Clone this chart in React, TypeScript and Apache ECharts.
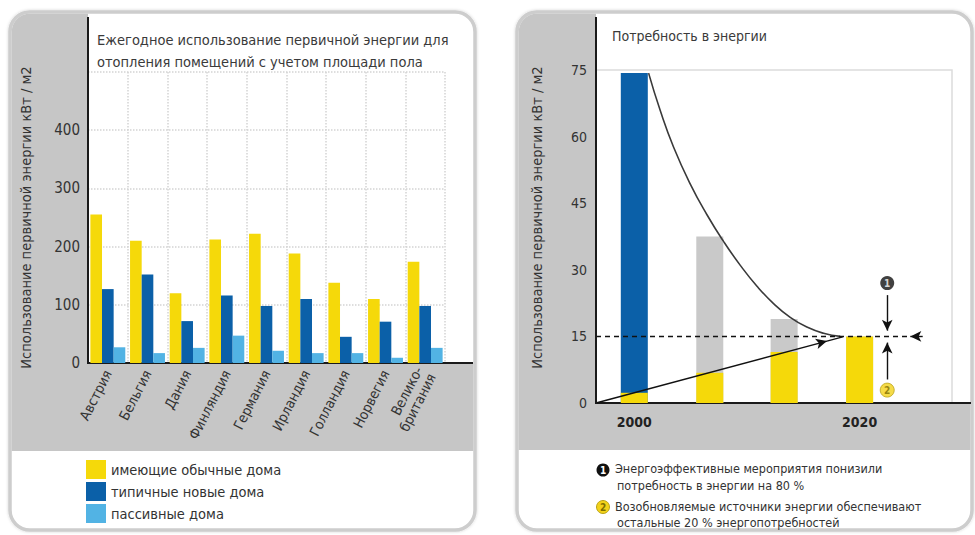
import React, { useEffect, useRef } from "react";
import * as echarts from "echarts";

const FONT =
  '"Liberation Sans Narrow", "DejaVu Sans Condensed", "Roboto Condensed", "Noto Sans", sans-serif';

// ---- Left chart: annual primary energy use for space heating (kWh / m2) ----
const countries = [
  "Австрия",
  "Бельгия",
  "Дания",
  "Финляндия",
  "Германия",
  "Ирландия",
  "Голландия",
  "Норвегия",
  "Велико-\nбритания",
];
const conventionalHomes = [255, 210, 120, 212, 222, 188, 138, 110, 174];
const typicalNewHomes = [127, 152, 72, 116, 98, 110, 45, 71, 98];
const passiveHomes = [27, 17, 26, 47, 21, 17, 17, 9, 26];
const heatingTicks = [0, 100, 200, 300, 400];

// ---- Right chart: energy demand ----
const demandYears = [2000, 2006.7, 2013.3, 2020];
const totalDemand = [74.3, 37.5, 18.9, 15];
const renewableShare = [2.3, 6.8, 11.5, 15];
const demandCurve = [
  [2001.27, 74.3],
  [2002.31, 65.8],
  [2003.49, 57.6],
  [2004.97, 49.3],
  [2006.45, 42.4],
  [2007.92, 36.4],
  [2009.41, 31.0],
  [2010.89, 26.3],
  [2012.36, 22.4],
  [2013.84, 19.3],
  [2015.32, 17.1],
  [2016.8, 15.7],
  [2018.28, 15.0],
];
const renewablePath = [
  [1996.6, 0],
  [2017.1, 13.95],
  [2018.5, 14.9],
];
const targetLevel = 15;
const yearLabels = [2000, 2020];
const markerYear = 2022.45;
const efficiencyMarker = [markerYear, 27.0];
const renewableMarker = [markerYear, 2.9];
const demandRange = { min: 1996.6, max: 2028.2 };

const YELLOW = "#f5d90a";
const DARK_BLUE = "#0b60a8";
const LIGHT_BLUE = "#52b3e4";
const BAR_GRAY = "#c9c9c9";
const PANEL_GRAY = "#c6c6c6";
const PANEL_BORDER = "#cdcdcd";
const INK = "#333333";

export default function App() {
  const ref = useRef<HTMLDivElement>(null);

  useEffect(() => {
    if (!ref.current) return;
    const chart = echarts.init(ref.current, undefined, { renderer: "svg" });

    const arrowLine = { type: "solid", color: "#111", width: 1.4 };

    const option: any = {
      animation: false,
      textStyle: { fontFamily: FONT, color: INK },
      title: [
        {
          text:
            "Ежегодное использование первичной энергии для\nотопления помещений с учетом площади пола",
          left: 97,
          top: 29,
          padding: 0,
          textStyle: {
            fontFamily: FONT,
            fontSize: 14.5,
            fontWeight: "normal",
            color: "#3a3a3a",
            lineHeight: 22,
          },
        },
        {
          text: "Потребность в энергии",
          left: 612,
          top: 29,
          padding: 0,
          textStyle: {
            fontFamily: FONT,
            fontSize: 14,
            fontWeight: "normal",
            color: "#3a3a3a",
          },
        },
      ],
      legend: {
        data: ["имеющие обычные дома", "типичные новые дома", "пассивные дома"],
        orient: "vertical",
        left: 86,
        top: 460,
        padding: 0,
        icon: "rect",
        itemWidth: 20,
        itemHeight: 19,
        itemGap: 3,
        textStyle: { fontFamily: FONT, fontSize: 14.5, color: INK },
        selectedMode: false,
      },
      grid: [
        { left: 88, top: 72, width: 357, height: 291, containLabel: false },
        {
          left: 596,
          top: 70,
          width: 356,
          height: 333,
          containLabel: false,
          show: true,
          borderColor: "#dcdcdc",
          borderWidth: 1.5,
          backgroundColor: "transparent",
        },
      ],
      xAxis: [
        {
          gridIndex: 0,
          type: "category",
          data: countries,
          boundaryGap: true,
          axisLine: { show: true, lineStyle: { color: "#1a1a1a", width: 2 } },
          axisTick: { show: false },
          splitLine: {
            show: true,
            lineStyle: { color: "#d4d4d4", type: "dotted", width: 1.5 },
          },
          axisLabel: {
            rotate: 63,
            margin: 8,
            fontSize: 14,
            color: INK,
            fontFamily: FONT,
            interval: 0,
            lineHeight: 15,
          },
        },
        {
          gridIndex: 1,
          type: "value",
          min: demandRange.min,
          max: demandRange.max,
          axisLine: { show: true, lineStyle: { color: "#1a1a1a", width: 2 } },
          axisTick: { show: false },
          splitLine: { show: false },
          axisLabel: {
            customValues: yearLabels,
            formatter: (v: number) => String(Math.round(v)),
            fontSize: 14,
            fontWeight: "bold",
            color: "#222",
            fontFamily: FONT,
            margin: 12,
          },
        },
      ],
      yAxis: [
        {
          gridIndex: 0,
          type: "value",
          min: 0,
          max: 500,
          interval: 100,
          axisLine: { show: false },
          axisTick: { show: false },
          splitLine: {
            show: true,
            lineStyle: { color: "#d4d4d4", type: "dotted", width: 1.5 },
          },
          axisLabel: {
            fontSize: 15,
            color: INK,
            fontFamily: FONT,
            margin: 8,
            formatter: (v: number) => (heatingTicks.includes(v) ? String(v) : ""),
          },
          name: "Использование первичной энергии кВт / м2",
          nameLocation: "middle",
          nameGap: 55,
          nameRotate: 90,
          nameTextStyle: { fontFamily: FONT, fontSize: 14.5, color: INK },
        },
        {
          gridIndex: 1,
          type: "value",
          min: 0,
          max: 75,
          interval: 15,
          axisLine: { show: false },
          axisTick: { show: false },
          splitLine: { show: false },
          axisLabel: { fontSize: 14, color: INK, fontFamily: FONT, margin: 9 },
          name: "Использование первичной энергии кВт / м2",
          nameLocation: "middle",
          nameGap: 52,
          nameRotate: 90,
          nameTextStyle: {
            fontFamily: FONT,
            fontSize: 14.5,
            color: INK,
            padding: [0, 0, 0, 38],
          },
        },
      ],
      series: [
        {
          name: "имеющие обычные дома",
          type: "bar",
          xAxisIndex: 0,
          yAxisIndex: 0,
          data: conventionalHomes,
          itemStyle: { color: YELLOW },
          barGap: "0%",
          barCategoryGap: "12%",
        },
        {
          name: "типичные новые дома",
          type: "bar",
          xAxisIndex: 0,
          yAxisIndex: 0,
          data: typicalNewHomes,
          itemStyle: { color: DARK_BLUE },
          barGap: "0%",
          barCategoryGap: "12%",
        },
        {
          name: "пассивные дома",
          type: "bar",
          xAxisIndex: 0,
          yAxisIndex: 0,
          data: passiveHomes,
          itemStyle: { color: LIGHT_BLUE },
          barGap: "0%",
          barCategoryGap: "12%",
        },
        // full demand per year (blue for 2000, grey afterwards)
        {
          name: "total",
          type: "bar",
          xAxisIndex: 1,
          yAxisIndex: 1,
          barWidth: 27,
          barGap: "-100%",
          data: demandYears.map((y, i) => ({
            value: [y, totalDemand[i]],
            itemStyle: { color: i === 0 ? DARK_BLUE : BAR_GRAY },
          })),
        },
        // renewable part drawn over the foot of each bar
        {
          name: "renewable",
          type: "bar",
          xAxisIndex: 1,
          yAxisIndex: 1,
          barWidth: 27,
          barGap: "-100%",
          data: demandYears.map((y, i) => [y, renewableShare[i]]),
          itemStyle: { color: YELLOW },
        },
        {
          name: "curve",
          type: "line",
          xAxisIndex: 1,
          yAxisIndex: 1,
          data: demandCurve,
          smooth: 0.5,
          symbol: "none",
          lineStyle: { color: "#3a3a3a", width: 1.6 },
          z: 4,
        },
        {
          name: "guides",
          type: "line",
          xAxisIndex: 1,
          yAxisIndex: 1,
          data: [],
          z: 5,
          markLine: {
            silent: true,
            symbol: ["none", "arrow"],
            symbolSize: [8, 11],
            label: { show: false },
            data: [
              [
                {
                  coord: [demandRange.min, targetLevel],
                  lineStyle: { type: [5, 4], color: "#111", width: 1.4 },
                  symbol: "none",
                },
                { coord: [2024.5, targetLevel], symbol: "none" },
              ],
              [
                { coord: [2025.6, targetLevel], lineStyle: arrowLine },
                { coord: [2024.5, targetLevel] },
              ],
              [
                { coord: renewablePath[0], lineStyle: arrowLine },
                { coord: renewablePath[1] },
              ],
              [
                { coord: renewablePath[1], lineStyle: arrowLine, symbol: "none" },
                { coord: renewablePath[2], symbol: "none" },
              ],
              [
                { coord: [markerYear, 24.3], lineStyle: arrowLine },
                { coord: [markerYear, 16.3] },
              ],
              [
                { coord: [markerYear, 5.3], lineStyle: arrowLine },
                { coord: [markerYear, 13.6] },
              ],
            ],
          },
        },
        {
          name: "markers",
          type: "scatter",
          xAxisIndex: 1,
          yAxisIndex: 1,
          symbolSize: 14,
          z: 6,
          data: [
            {
              value: efficiencyMarker,
              name: "1",
              itemStyle: { color: "#111" },
              label: { color: "#fff" },
            },
            {
              value: renewableMarker,
              name: "2",
              itemStyle: { color: "#f2d21a", borderColor: "#b9a21a", borderWidth: 1 },
              label: { color: "#7d6d00" },
            },
          ],
          label: {
            show: true,
            position: "inside",
            formatter: "{b}",
            fontSize: 10,
            fontWeight: "bold",
            fontFamily: FONT,
          },
        },
      ],
      graphic: {
        elements: [
          // left panel frame and grey bands
          {
            type: "rect",
            z: -10,
            shape: { x: 10, y: 12, width: 465, height: 518, r: 20 },
            style: {
              fill: "#ffffff",
              stroke: PANEL_BORDER,
              lineWidth: 3.5,
              shadowBlur: 3,
              shadowColor: "rgba(0,0,0,0.18)",
            },
          },
          {
            type: "rect",
            z: -9,
            shape: { x: 11.75, y: 13.75, width: 76.25, height: 437.25, r: [18, 0, 0, 0] },
            style: { fill: PANEL_GRAY },
          },
          {
            type: "rect",
            z: -9,
            shape: { x: 88, y: 363, width: 385.25, height: 88 },
            style: { fill: PANEL_GRAY },
          },
          // right panel frame and grey bands
          {
            type: "rect",
            z: -10,
            shape: { x: 517, y: 12, width: 455, height: 518, r: 20 },
            style: {
              fill: "#ffffff",
              stroke: PANEL_BORDER,
              lineWidth: 3.5,
              shadowBlur: 3,
              shadowColor: "rgba(0,0,0,0.18)",
            },
          },
          {
            type: "rect",
            z: -9,
            shape: { x: 518.75, y: 13.75, width: 77.25, height: 436.25, r: [18, 0, 0, 0] },
            style: { fill: PANEL_GRAY },
          },
          {
            type: "rect",
            z: -9,
            shape: { x: 596, y: 403, width: 374.25, height: 47 },
            style: { fill: PANEL_GRAY },
          },
          // axis rules running to the panel edges
          {
            type: "line",
            z: 50,
            shape: { x1: 88, y1: 17, x2: 88, y2: 364 },
            style: { stroke: "#1a1a1a", lineWidth: 2 },
          },
          {
            type: "line",
            z: 50,
            shape: { x1: 444, y1: 363, x2: 473, y2: 363 },
            style: { stroke: "#1a1a1a", lineWidth: 2 },
          },
          {
            type: "line",
            z: 50,
            shape: { x1: 596, y1: 17, x2: 596, y2: 404 },
            style: { stroke: "#1a1a1a", lineWidth: 2 },
          },
          {
            type: "line",
            z: 50,
            shape: { x1: 951, y1: 403, x2: 971, y2: 403 },
            style: { stroke: "#1a1a1a", lineWidth: 2 },
          },
          // right panel notes
          {
            type: "circle",
            z: 50,
            shape: { cx: 603, cy: 470, r: 6.5 },
            style: { fill: "#111" },
          },
          {
            type: "text",
            z: 51,
            x: 603,
            y: 470,
            style: {
              text: "1",
              fill: "#fff",
              font: `bold 10px ${FONT}`,
              align: "center",
              verticalAlign: "middle",
            },
          },
          {
            type: "text",
            z: 50,
            x: 615,
            y: 468,
            style: {
              text: "Энергоэффективные мероприятия понизили",
              fill: INK,
              font: `12.5px ${FONT}`,
              verticalAlign: "middle",
            },
          },
          {
            type: "text",
            z: 50,
            x: 617,
            y: 485,
            style: {
              text: "потребность в энергии на 80 %",
              fill: INK,
              font: `12.5px ${FONT}`,
              verticalAlign: "middle",
            },
          },
          {
            type: "circle",
            z: 50,
            shape: { cx: 603, cy: 507, r: 6.5 },
            style: { fill: "#f2d21a", stroke: "#b9a21a", lineWidth: 1 },
          },
          {
            type: "text",
            z: 51,
            x: 603,
            y: 507,
            style: {
              text: "2",
              fill: "#7d6d00",
              font: `bold 10px ${FONT}`,
              align: "center",
              verticalAlign: "middle",
            },
          },
          {
            type: "text",
            z: 50,
            x: 615,
            y: 506,
            style: {
              text: "Возобновляемые источники энергии обеспечивают",
              fill: INK,
              font: `12.5px ${FONT}`,
              verticalAlign: "middle",
            },
          },
          {
            type: "text",
            z: 50,
            x: 617,
            y: 522,
            style: {
              text: "остальные 20 % энергопотребностей",
              fill: INK,
              font: `12.5px ${FONT}`,
              verticalAlign: "middle",
            },
          },
        ],
      },
    };

    chart.setOption(option);
    return () => chart.dispose();
  }, []);

  return (
    <div
      ref={ref}
      style={{
        position: "fixed",
        left: 0,
        top: 0,
        width: 975,
        height: 535,
        background: "#ffffff",
      }}
    />
  );
}
